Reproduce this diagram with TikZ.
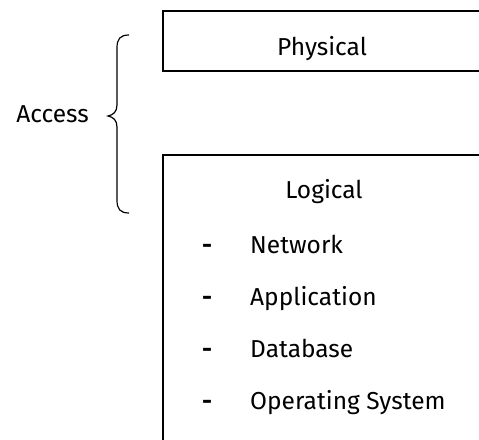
\documentclass[tikz,border=0pt]{standalone}
\usepackage{fontspec}
\setmainfont{Fira Sans}
\tikzset{
  boxline/.style={draw=black, line width=1.3pt},
  lbl/.style={font=\fontsize{24.5}{28}\selectfont, inner sep=0pt, anchor=base},
  item/.style={font=\fontsize{24.5}{28}\selectfont, inner sep=0pt, anchor=base west},
  dashmark/.style={font=\fontsize{24.5}{28}\selectfont\bfseries, inner sep=0pt, anchor=base},
  bracel/.style={draw=black, line width=1.2pt}
}
\begin{document}
\begin{tikzpicture}[x=1pt,y=-1pt]
\useasboundingbox (0,0) rectangle (479,439);
\begin{scope}
\clip (0,0) rectangle (479,439);
\draw[boxline] (163,11) rectangle (500,71);
\draw[boxline] (163,155) rectangle (500,460);
\end{scope}
\node[lbl] (phys) at (322,55) {Physical};
\node[lbl] (logi) at (324,198) {Logical};
\node[item] (net) at (250,253) {Network};
\node[item] (app) at (250,305) {Application};
\node[item] (db) at (250,357) {Database};
\node[item] (os) at (250,409) {Operating System};
\foreach \y in {253,305,357,409} \node[dashmark] at (207,\y) {-};
\node[lbl, anchor=base east] (acc) at (89,122) {Access};
\draw[bracel] (129,35) .. controls (120,35) and (117,39) .. (117,48)
  -- (117,105) .. controls (117,112) and (113,115) .. (108,116)
  .. controls (113,117) and (117,120) .. (117,127)
  -- (117,200) .. controls (117,209) and (120,213) .. (129,213);
\end{tikzpicture}
\end{document}
